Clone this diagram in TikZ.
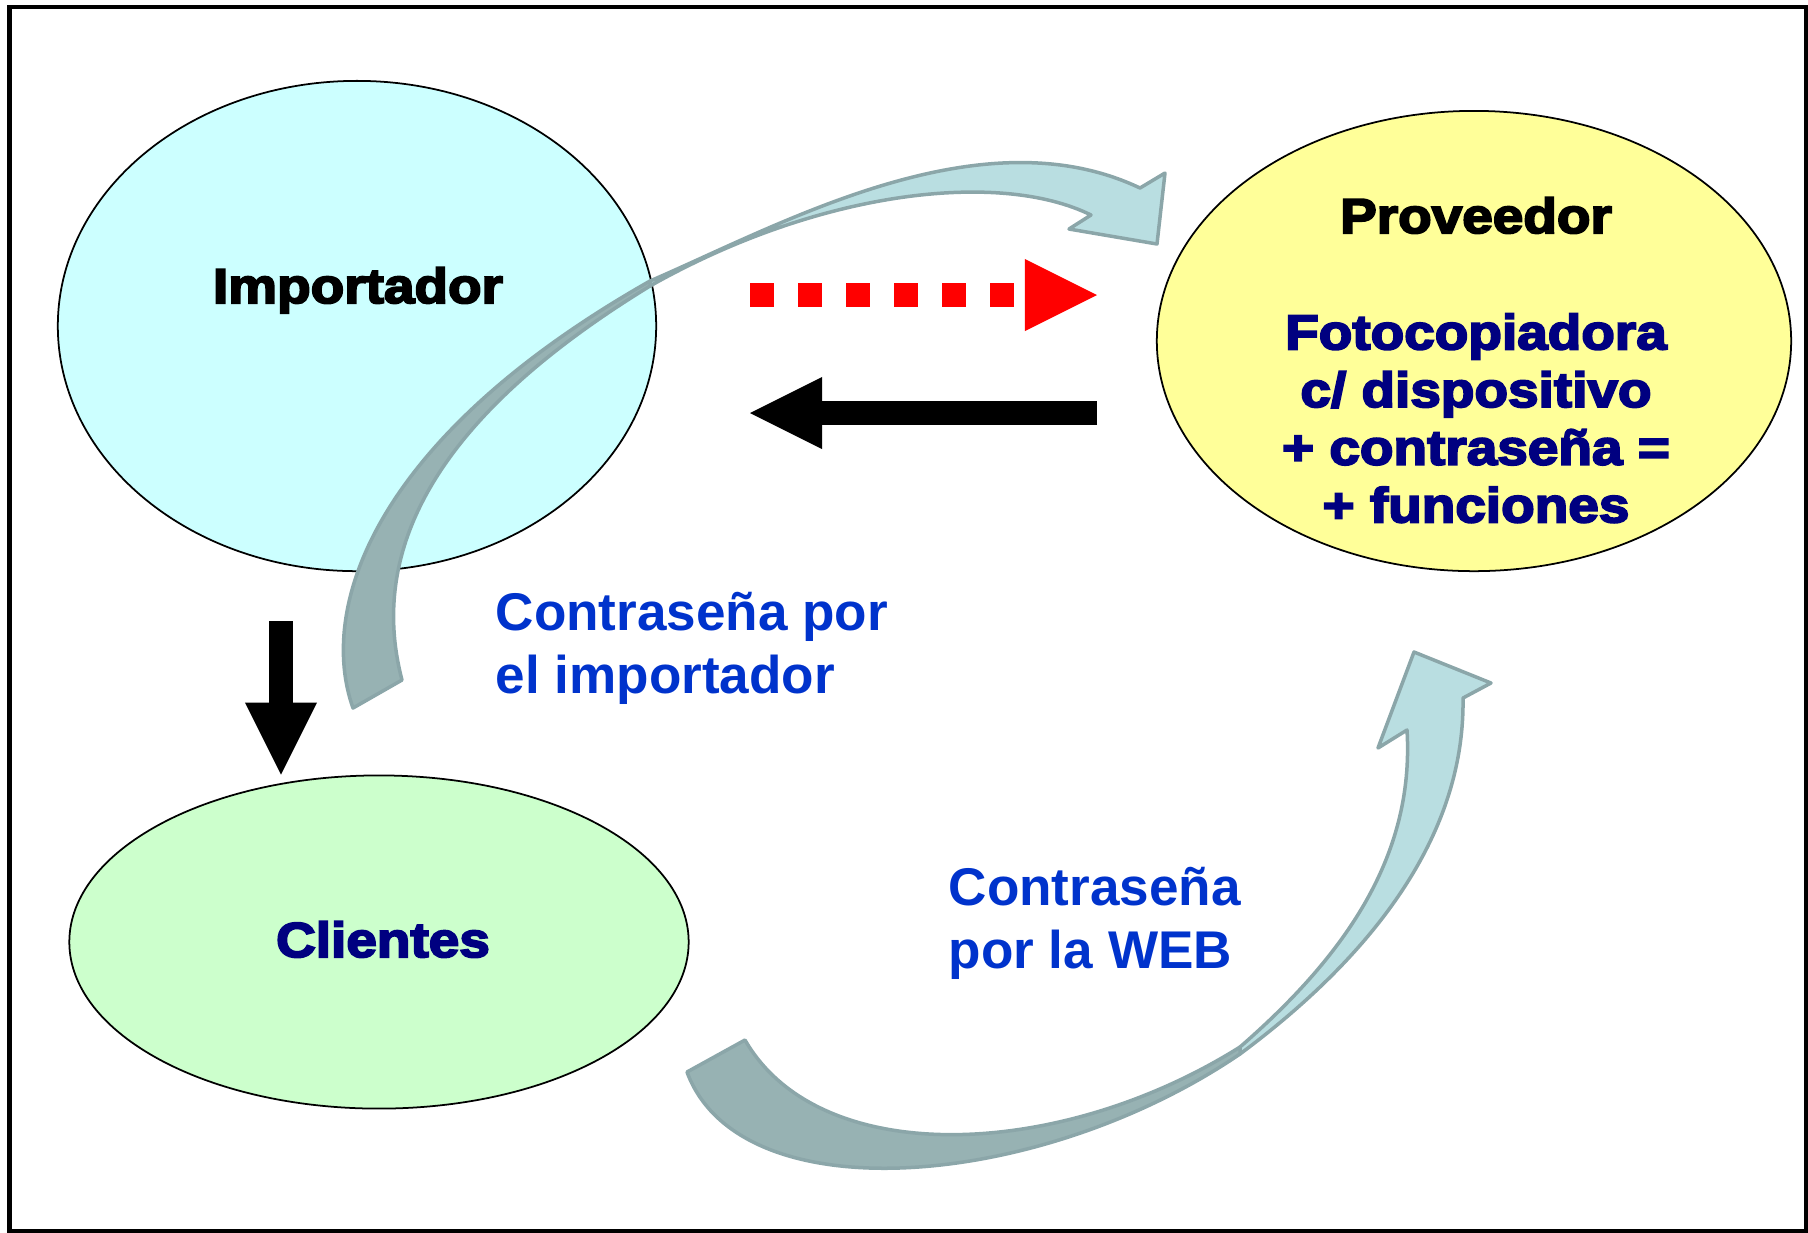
\documentclass[tikz,border=0pt]{standalone}
\usepackage{fontspec}
\setmainfont{Liberation Sans}
\newfontfamily\heavyfont{Liberation Sans Bold}[FakeBold=4,FakeStretch=1.12]
\usepackage{tikz}
\usetikzlibrary{arrows.meta,shapes.geometric,positioning}
\definecolor{importfill}{HTML}{CCFFFF}
\definecolor{provfill}{HTML}{FFFF99}
\definecolor{clientfill}{HTML}{CCFFCC}
\definecolor{navytext}{HTML}{000080}
\definecolor{noteblue}{HTML}{0033CC}
\definecolor{bandlight}{HTML}{B9DEE1}
\definecolor{banddark}{HTML}{97B2B3}
\definecolor{bandedge}{HTML}{8BA6A9}

\begin{document}
\begin{tikzpicture}[x=0.01cm, y=-0.01cm,
    actor/.style={ellipse, draw, line width=0.5pt, inner sep=0pt},
    heavy/.style={font=\heavyfont\fontsize{13.95pt}{16.4pt}\selectfont, inner sep=0pt},
    note/.style={font=\bfseries\fontsize{15.1pt}{17.9pt}\selectfont, text=noteblue, align=left, inner sep=0pt},
    blockarrow/.style={line width=0.24cm, -{Triangle[width=0.72cm,length=0.72cm,line width=0pt]}},
    swooshlight/.style={fill=bandlight, draw=bandedge, line width=0.035cm, line join=round},
    swooshdark/.style={fill=banddark, draw=bandedge, line width=0.035cm, line join=round}]
    \useasboundingbox (0,0) rectangle (1808,1232);
    \draw[line width=0.045cm] (9.5,7) rectangle (1806,1231);
    % the three parties
    \node[actor, fill=importfill, minimum width=5.98cm, minimum height=4.90cm] (importador) at (357,326) {};
    \node[actor, fill=provfill, minimum width=6.34cm, minimum height=4.60cm] (proveedor) at (1474,341) {};
    \node[actor, fill=clientfill, minimum width=6.19cm, minimum height=3.33cm] (clientes) at (379,942) {};
    % curved arrow from the importer to the supplier
    \path[swooshlight] (650,281) .. controls (780,225) and (980,112) .. (1140,188)
        -- (1165,173) -- (1157,244) -- (1069,229) -- (1091,215)
        .. controls (1000,170) and (820,190) .. (650,286) -- cycle;
    \path[swooshdark] (353,708) .. controls (318,610) and (370,440) .. (650,281)
        -- (650,286) .. controls (480,390) and (360,520) .. (402,680) -- cycle;
    % curved arrow from the clients to the supplier
    \path[swooshlight] (1240,1054) .. controls (1380,950) and (1465,830) .. (1463,698)
        -- (1491,683) -- (1414,652) -- (1378,748) -- (1407,730)
        .. controls (1415,860) and (1340,960) .. (1240,1047) -- cycle;
    \path[swooshdark] (687,1072) .. controls (740,1215) and (1040,1190) .. (1240,1054)
        -- (1240,1047) .. controls (1060,1160) and (820,1170) .. (745,1040) -- cycle;
    % labels
    \node[heavy, anchor=base] (importador-txt) at (358,303) {Importador};
    \node[heavy, anchor=base] (proveedor-txt) at (1476,233) {Proveedor};
    \node[heavy, text=navytext, align=center, anchor=north] (equipo-txt) at (1476,313)
        {Fotocopiadora\\c/ dispositivo\\+ contraseña =\\+ funciones};
    \node[heavy, text=navytext, anchor=base] (clientes-txt) at (383,957) {Clientes};
    \node[note, anchor=north west] (nota-importador) at (495,592) {Contraseña por\\el importador};
    \node[note, anchor=north west] (nota-web) at (948,867) {Contraseña\\por la WEB};
    % straight arrows
    \coordinate (pedido-a) at (750,295);
    \coordinate (pedido-b) at (1097,295);
    \coordinate (envio-a) at (1097,413);
    \coordinate (envio-b) at (750,413);
    \coordinate (venta-a) at (281,621);
    \draw[blockarrow, red, dash pattern=on 0.24cm off 0.24cm] (pedido-a) -- (pedido-b);
    \draw[blockarrow] (envio-a) -- (envio-b);
    \draw[blockarrow] (venta-a) -- (clientes.north -| venta-a);
\end{tikzpicture}
\end{document}
